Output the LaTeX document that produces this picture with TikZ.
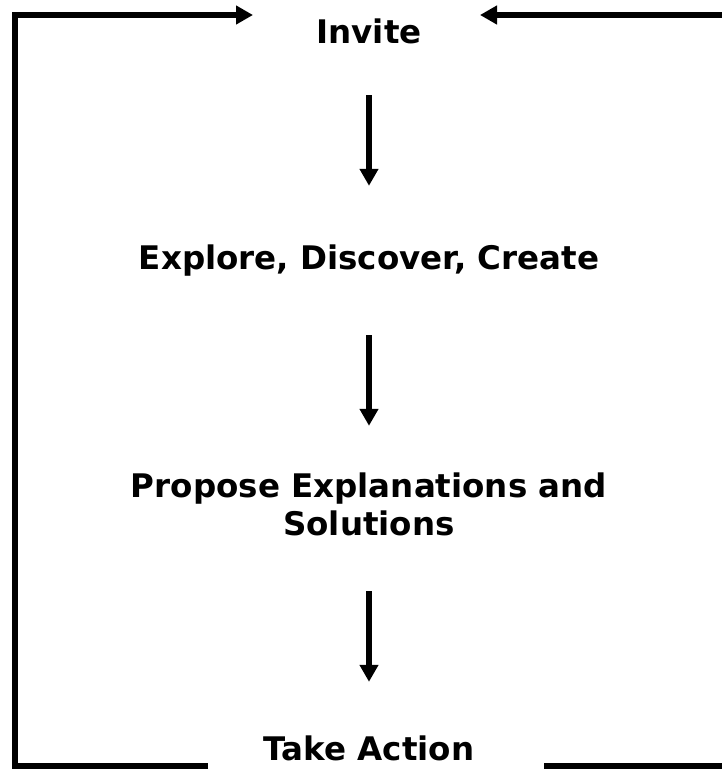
\documentclass[tikz,border=0pt]{standalone}
\usepackage{fontspec}
\setmainfont{DejaVu Sans}
\usetikzlibrary{arrows.meta}
\begin{document}
\begin{tikzpicture}[x=1pt,y=-1pt,
    stage/.style ={anchor=base, font=\bfseries\fontsize{32.5}{38}\selectfont,
      align=center, inner sep=0pt, text height=23pt, text depth=7pt},
    rim/.style ={line width=5.5pt},
    flow/.style ={line width=5.5pt, -{Triangle[length=17pt,width=18pt]}}]
   \useasboundingbox (0,0) rectangle (722,769);
   \node[stage] (invite)  at (369,43)  {Invite};
   \node[stage] (explore) at (369,269) {Explore, Discover, Create};
   \node[stage] (propose) at (369,535) {Propose Explanations and\\Solutions};
   \node[stage] (action)  at (369,760) {Take Action};

   \coordinate (gapleft)   at (208,766);
   \coordinate (cornerlow) at (15,766);
   \coordinate (cornertop) at (15,15);
   \coordinate (tipleft)   at (253,15);
   \coordinate (gapright)  at (544,766);
   \coordinate (edgelow)   at (722,766);
   \coordinate (edgetop)   at (722,15);
   \coordinate (tipright)  at (480,15);

   \draw[flow, shorten <=45pt, shorten >=60pt] (invite) to (explore);
   \draw[flow, shorten <=59pt, shorten >=86pt] (explore) to (propose);
   \draw[flow, shorten <=49pt, shorten >=55pt] (propose) to (action);

   \draw[rim, -{Triangle[length=17pt,width=18pt]}]
     (gapleft) -- (cornerlow) -- (cornertop) -- (tipleft);
   \draw[rim] (gapright) -- (edgelow);
   \draw[rim, -{Triangle[length=17pt,width=18pt]}] (edgetop) -- (tipright);
 \end{tikzpicture}
\end{document}
